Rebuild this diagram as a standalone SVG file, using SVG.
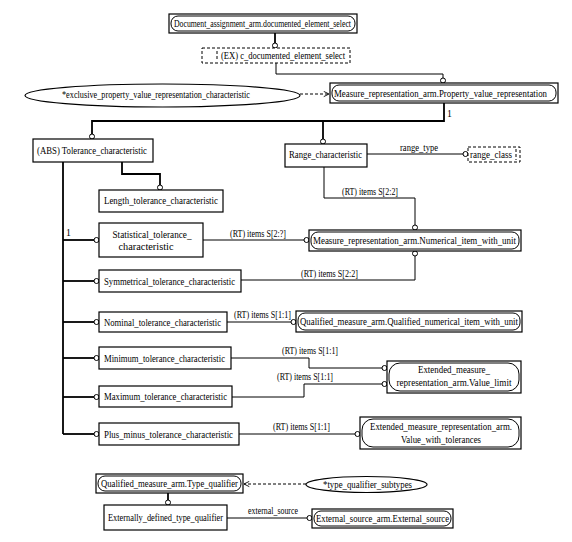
<svg xmlns="http://www.w3.org/2000/svg" width="572" height="542" viewBox="0 0 572 542">
<style>
  .bx{fill:#fff;stroke:#000;stroke-width:1.2}
  .in{fill:none;stroke:#000;stroke-width:1}
  .dbx{fill:#fff;stroke:#000;stroke-width:1;stroke-dasharray:3,2}
  .el{fill:#fff;stroke:#000;stroke-width:1.2}
  .thick{fill:none;stroke:#000;stroke-width:1.8}
  .thin{fill:none;stroke:#000;stroke-width:1}
  .dash{fill:none;stroke:#000;stroke-width:1;stroke-dasharray:3,2}
  .c{fill:#fff;stroke:#000;stroke-width:1}
  text{font-family:"Liberation Serif","Times New Roman",serif;font-size:9.8px;fill:#000}
  .m{text-anchor:middle}
</style>
<defs>
  <marker id="arr" viewBox="0 0 8 8" refX="7" refY="4" markerWidth="7" markerHeight="7" orient="auto" markerUnits="userSpaceOnUse">
    <path d="M1,1 L7,4 L1,7" fill="none" stroke="#000" stroke-width="1"/>
  </marker>
</defs>
<rect width="572" height="542" fill="#fff"/>

<g id="connectors">
  <path class="thick" d="M275,33 V43"/>
  <path class="thin" d="M276,63 V74 H443 V78"/>
  <path class="thick" d="M444,103 V121 H92 V134"/>
  <path class="thick" d="M323,121 V139"/>
  <path class="thick" d="M122,162 V174 H160 V185"/>
  <path class="thick" d="M63,162 V434"/>
  <path class="thick" d="M63,240 H94"/>
  <path class="thick" d="M63,281 H94"/>
  <path class="thick" d="M63,322 H94"/>
  <path class="thick" d="M63,358 H94"/>
  <path class="thick" d="M63,397 H94"/>
  <path class="thick" d="M63,434 H94"/>
  <path class="thick" d="M168,493 V500"/>
  <path class="thin" d="M367,154 H463"/>
  <path class="thin" d="M324,167 V198 H415 V225"/>
  <path class="thin" d="M203,240 H304"/>
  <path class="thin" d="M241,280 H415 V256"/>
  <path class="thin" d="M227,322 H291"/>
  <path class="thin" d="M231,358 H309 V368 H382"/>
  <path class="thin" d="M232,397 H304 V384 H382"/>
  <path class="thin" d="M239,434 H355"/>
  <path class="thin" d="M227,518 H307"/>
  <path class="dash" d="M300,94 H329" marker-end="url(#arr)"/>
  <path class="dash" d="M306,484 H244" marker-end="url(#arr)"/>
  <circle class="c" cx="275" cy="45.5" r="2.5"/>
  <circle class="c" cx="443" cy="80.5" r="2.5"/>
  <circle class="c" cx="92" cy="136.5" r="2.5"/>
  <circle class="c" cx="323" cy="141.5" r="2.5"/>
  <circle class="c" cx="160" cy="187.5" r="2.5"/>
  <circle class="c" cx="96.5" cy="240" r="2.5"/>
  <circle class="c" cx="96.5" cy="281" r="2.5"/>
  <circle class="c" cx="96.5" cy="322" r="2.5"/>
  <circle class="c" cx="96.5" cy="358" r="2.5"/>
  <circle class="c" cx="96.5" cy="397" r="2.5"/>
  <circle class="c" cx="96.5" cy="434" r="2.5"/>
  <circle class="c" cx="168" cy="502.5" r="2.5"/>
  <circle class="c" cx="465.5" cy="154" r="2.5"/>
  <circle class="c" cx="415" cy="227.5" r="2.5"/>
  <circle class="c" cx="306.5" cy="240" r="2.5"/>
  <circle class="c" cx="415" cy="253.5" r="2.5"/>
  <circle class="c" cx="293.5" cy="322" r="2.5"/>
  <circle class="c" cx="384.5" cy="368" r="2.5"/>
  <circle class="c" cx="384.5" cy="384" r="2.5"/>
  <circle class="c" cx="357.5" cy="434" r="2.5"/>
  <circle class="c" cx="309.5" cy="518" r="2.5"/>
  <text x="447" y="117">1</text>
  <text x="66" y="236">1</text>
  <text x="400" y="151" textLength="38" lengthAdjust="spacingAndGlyphs">range_type</text>
  <text x="342" y="195" textLength="56" lengthAdjust="spacingAndGlyphs">(RT) items S[2:2]</text>
  <text x="230" y="237" textLength="56" lengthAdjust="spacingAndGlyphs">(RT) items S[2:?]</text>
  <text x="301" y="277" textLength="57" lengthAdjust="spacingAndGlyphs">(RT) items S[2:2]</text>
  <text x="234" y="318" textLength="57" lengthAdjust="spacingAndGlyphs">(RT) items S[1:1]</text>
  <text x="282" y="354" textLength="56" lengthAdjust="spacingAndGlyphs">(RT) items S[1:1]</text>
  <text x="277" y="380" textLength="56" lengthAdjust="spacingAndGlyphs">(RT) items S[1:1]</text>
  <text x="273" y="430" textLength="57" lengthAdjust="spacingAndGlyphs">(RT) items S[1:1]</text>
  <text x="248" y="514" textLength="50" lengthAdjust="spacingAndGlyphs">external_source</text>
</g>

<g id="document_select">
  <rect class="bx" x="169" y="14" width="188" height="19"/>
  <rect class="in" x="171" y="16" width="184" height="15" rx="7"/>
  <text x="174" y="27" textLength="177" lengthAdjust="spacingAndGlyphs">Document_assignment_arm.documented_element_select</text>
</g>

<g id="c_documented_element_select">
  <rect class="dbx" x="202" y="48" width="148" height="15"/>
  <path class="dash" d="M217,51 V61"/>
  <text x="221" y="59" textLength="124" lengthAdjust="spacingAndGlyphs">(EX) c_documented_element_select</text>
</g>

<g id="exclusive_pvr">
  <ellipse class="el" cx="162.5" cy="95.5" rx="137.5" ry="11.5"/>
  <text x="62" y="98" textLength="188" lengthAdjust="spacingAndGlyphs">*exclusive_property_value_representation_characteristic</text>
</g>

<g id="property_value_representation">
  <rect class="bx" x="330" y="83" width="228" height="20"/>
  <rect class="in" x="332" y="85" width="224" height="16" rx="7"/>
  <text x="334" y="97" textLength="213" lengthAdjust="spacingAndGlyphs">Measure_representation_arm.Property_value_representation</text>
</g>

<g id="tolerance_characteristic">
  <rect class="bx" x="33" y="139" width="120" height="23"/>
  <text x="37" y="154" textLength="110" lengthAdjust="spacingAndGlyphs">(ABS) Tolerance_characteristic</text>
</g>

<g id="range_characteristic">
  <rect class="bx" x="285" y="144" width="82" height="23"/>
  <text x="289" y="158" textLength="73" lengthAdjust="spacingAndGlyphs">Range_characteristic</text>
</g>

<g id="range_class">
  <rect class="dbx" x="468" y="147" width="52" height="15"/>
  <path class="dash" d="M516,149 V160"/>
  <text x="470" y="158" textLength="42" lengthAdjust="spacingAndGlyphs">range_class</text>
</g>

<g id="length_tolerance_characteristic">
  <rect class="bx" x="99" y="190" width="124" height="22"/>
  <text x="104" y="204" textLength="114" lengthAdjust="spacingAndGlyphs">Length_tolerance_characteristic</text>
</g>

<g id="statistical_tolerance_characteristic">
  <rect class="bx" x="99" y="223" width="104" height="34"/>
  <text x="152" y="238" class="m" textLength="79" lengthAdjust="spacingAndGlyphs">Statistical_tolerance_</text>
  <text x="146" y="250" class="m" textLength="55" lengthAdjust="spacingAndGlyphs">characteristic</text>
</g>

<g id="numerical_item_with_unit">
  <rect class="bx" x="309" y="230" width="212" height="21"/>
  <rect class="in" x="311" y="232" width="208" height="17" rx="7"/>
  <text x="313" y="244" textLength="203" lengthAdjust="spacingAndGlyphs">Measure_representation_arm.Numerical_item_with_unit</text>
</g>

<g id="symmetrical_tolerance_characteristic">
  <rect class="bx" x="99" y="270" width="142" height="22"/>
  <text x="104" y="285" textLength="131" lengthAdjust="spacingAndGlyphs">Symmetrical_tolerance_characteristic</text>
</g>

<g id="nominal_tolerance_characteristic">
  <rect class="bx" x="99" y="312" width="128" height="20"/>
  <text x="104" y="326" textLength="117" lengthAdjust="spacingAndGlyphs">Nominal_tolerance_characteristic</text>
</g>

<g id="qualified_numerical_item_with_unit">
  <rect class="bx" x="296" y="311" width="226" height="21"/>
  <rect class="in" x="298" y="313" width="222" height="17" rx="7"/>
  <text x="300" y="325" textLength="218" lengthAdjust="spacingAndGlyphs">Qualified_measure_arm.Qualified_numerical_item_with_unit</text>
</g>

<g id="minimum_tolerance_characteristic">
  <rect class="bx" x="99" y="347" width="132" height="22"/>
  <text x="104" y="362" textLength="121" lengthAdjust="spacingAndGlyphs">Minimum_tolerance_characteristic</text>
</g>

<g id="value_limit">
  <rect class="bx" x="387" y="361" width="134" height="32"/>
  <rect class="in" x="389" y="363" width="130" height="28" rx="11"/>
  <text x="454" y="373" class="m" textLength="72" lengthAdjust="spacingAndGlyphs">Extended_measure_</text>
  <text x="454" y="386" class="m" textLength="115" lengthAdjust="spacingAndGlyphs">representation_arm.Value_limit</text>
</g>

<g id="maximum_tolerance_characteristic">
  <rect class="bx" x="99" y="386" width="133" height="21"/>
  <text x="104" y="400" textLength="123" lengthAdjust="spacingAndGlyphs">Maximum_tolerance_characteristic</text>
</g>

<g id="plus_minus_tolerance_characteristic">
  <rect class="bx" x="99" y="423" width="140" height="22"/>
  <text x="104" y="438" textLength="129" lengthAdjust="spacingAndGlyphs">Plus_minus_tolerance_characteristic</text>
</g>

<g id="value_with_tolerances">
  <rect class="bx" x="360" y="417" width="161" height="32"/>
  <rect class="in" x="362" y="419" width="157" height="28" rx="11"/>
  <text x="441" y="430" class="m" textLength="142" lengthAdjust="spacingAndGlyphs">Extended_measure_representation_arm.</text>
  <text x="441" y="443" class="m" textLength="80" lengthAdjust="spacingAndGlyphs">Value_with_tolerances</text>
</g>

<g id="type_qualifier">
  <rect class="bx" x="96" y="474" width="147" height="19"/>
  <rect class="in" x="98" y="476" width="143" height="15" rx="7"/>
  <text x="101" y="487" textLength="137" lengthAdjust="spacingAndGlyphs">Qualified_measure_arm.Type_qualifier</text>
</g>

<g id="type_qualifier_subtypes">
  <ellipse class="el" cx="366.5" cy="484.5" rx="60.5" ry="8"/>
  <text x="323" y="488" textLength="89" lengthAdjust="spacingAndGlyphs">*type_qualifier_subtypes</text>
</g>

<g id="externally_defined_type_qualifier">
  <rect class="bx" x="104" y="505" width="123" height="25"/>
  <text x="108" y="521" textLength="115" lengthAdjust="spacingAndGlyphs">Externally_defined_type_qualifier</text>
</g>

<g id="external_source">
  <rect class="bx" x="312" y="509" width="141" height="19"/>
  <rect class="in" x="314" y="511" width="137" height="15" rx="7"/>
  <text x="316" y="522" textLength="133" lengthAdjust="spacingAndGlyphs">External_source_arm.External_source</text>
</g>
</svg>
